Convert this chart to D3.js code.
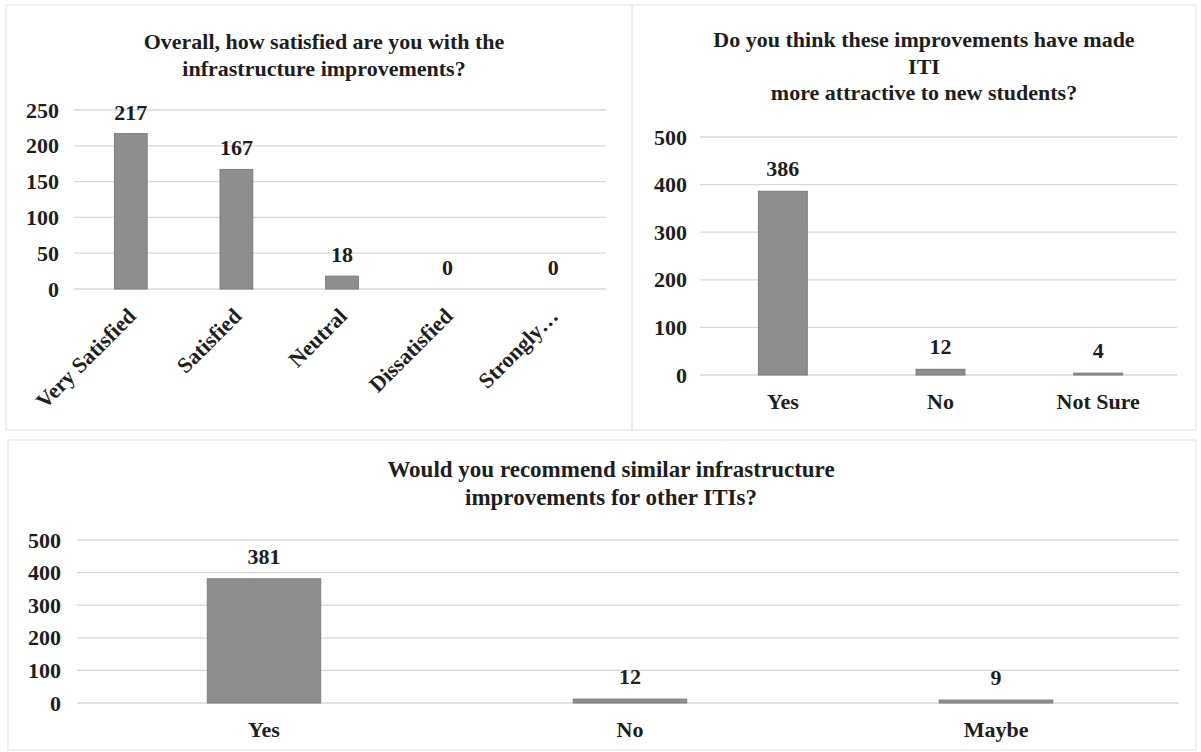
<!DOCTYPE html>
<html>
<head>
<meta charset="utf-8">
<script src="https://cdn.jsdelivr.net/npm/d3@7"></script>
<style>
  html, body { margin: 0; padding: 0; background: #fff; }
  svg { display: block; }
  text { font-family: "Liberation Serif", "Times New Roman", serif; fill: #1e1e1e; }
</style>
</head>
<body>
<svg id="chart" width="1201" height="752"></svg>
<script>
// Survey responses, one small set of arrays per question
const satisfactionCategories = ["Very Satisfied", "Satisfied", "Neutral", "Dissatisfied", "Strongly Dissatisfied"];
const satisfactionLabels = ["Very Satisfied", "Satisfied", "Neutral", "Dissatisfied", "Strongly…"];
const satisfactionValues = [217, 167, 18, 0, 0];
const satisfactionTicks = [0, 50, 100, 150, 200, 250];

const attractiveCategories = ["Yes", "No", "Not Sure"];
const attractiveValues = [386, 12, 4];
const attractiveTicks = [0, 100, 200, 300, 400, 500];

const recommendCategories = ["Yes", "No", "Maybe"];
const recommendValues = [381, 12, 9];
const recommendTicks = [0, 100, 200, 300, 400, 500];

const svg = d3.select("#chart");

// faint panel frames
const frames = [
  {x: 6, y: 5, w: 626, h: 425},
  {x: 632, y: 5, w: 564, h: 425},
  {x: 8, y: 440, w: 1188, h: 310}
];
svg.selectAll("rect.frame").data(frames).join("rect")
  .attr("class", "frame")
  .attr("x", d => d.x).attr("y", d => d.y)
  .attr("width", d => d.w).attr("height", d => d.h)
  .attr("fill", "none").attr("stroke", "#e8e8e8").attr("stroke-width", 1.2);

function drawBarChart(cfg) {
  const g = svg.append("g");
  const x = d3.scaleBand().domain(cfg.categories).range([cfg.x0, cfg.x1]).paddingInner(0.69).paddingOuter(0.345);
  const y = d3.scaleLinear().domain([0, d3.max(cfg.ticks)]).range([cfg.yBase, cfg.yTop]);

  // title
  const title = g.append("text")
    .attr("x", cfg.titleX).attr("y", cfg.titleY)
    .attr("text-anchor", "middle")
    .attr("font-size", cfg.titleSize).attr("font-weight", "bold");
  cfg.title.forEach((line, i) => {
    title.append("tspan").attr("x", cfg.titleX).attr("dy", i === 0 ? 0 : cfg.titleLead).text(line);
  });

  // gridlines
  g.append("g").selectAll("line").data(cfg.ticks).join("line")
    .attr("x1", cfg.x0 - 4).attr("x2", cfg.x1)
    .attr("y1", d => y(d)).attr("y2", d => y(d))
    .attr("stroke", "#d9d9d9").attr("stroke-width", 1.3);

  // value axis
  const yAxis = g.append("g")
    .attr("transform", `translate(${cfg.x0},0)`)
    .call(d3.axisLeft(y).tickValues(cfg.ticks).tickSize(0).tickPadding(cfg.tickPad).tickFormat(d3.format("d")));
  yAxis.select(".domain").remove();
  yAxis.selectAll("text")
    .attr("font-family", "Liberation Serif, serif")
    .attr("font-size", cfg.fontSize).attr("font-weight", "bold").attr("fill", "#1e1e1e");

  // bars
  const data = cfg.categories.map((c, i) => ({c, v: cfg.values[i], label: cfg.labels ? cfg.labels[i] : c}));
  g.append("g").selectAll("rect").data(data).join("rect")
    .attr("x", d => x(d.c)).attr("width", x.bandwidth())
    .attr("y", d => y(d.v)).attr("height", d => y(0) - y(d.v))
    .attr("fill", "#8e8e8e").attr("stroke", "#7d7d7d").attr("stroke-width", 1);

  // value labels
  g.append("g").selectAll("text").data(data).join("text")
    .attr("x", d => x(d.c) + x.bandwidth() / 2)
    .attr("y", d => y(d.v) - cfg.labelGap)
    .attr("text-anchor", "middle")
    .attr("font-size", cfg.fontSize).attr("font-weight", "bold")
    .text(d => d.v);

  // category axis
  const xAxis = g.append("g")
    .attr("transform", `translate(0,${cfg.yBase})`)
    .call(d3.axisBottom(x).tickSize(0).tickPadding(cfg.catPad).tickFormat((c, i) => data[i].label));
  xAxis.select(".domain").remove();
  const catText = xAxis.selectAll("text")
    .attr("font-family", "Liberation Serif, serif")
    .attr("font-size", cfg.fontSize).attr("font-weight", "bold").attr("fill", "#1e1e1e");
  if (cfg.rotate) {
    catText.attr("text-anchor", "end")
      .attr("dy", "0.35em")
      .attr("y", 0)
      .attr("transform", `translate(${cfg.rotDx},${cfg.rotDy}) rotate(-45)`);
  }
}

drawBarChart({
  title: ["Overall, how satisfied are you with the", "infrastructure improvements?"],
  titleX: 324, titleY: 49, titleLead: 27, titleSize: 22,
  categories: satisfactionCategories, labels: satisfactionLabels, values: satisfactionValues, ticks: satisfactionTicks,
  x0: 78, x1: 606, yBase: 289, yTop: 110,
  fontSize: 22, tickPad: 19, labelGap: 14, catPad: 10,
  rotate: true, rotDx: 1, rotDy: 23
});

drawBarChart({
  title: ["Do you think these improvements have made", "ITI", "more attractive to new students?"],
  titleX: 924, titleY: 47, titleLead: 26.5, titleSize: 22,
  categories: attractiveCategories, values: attractiveValues, ticks: attractiveTicks,
  x0: 704, x1: 1177, yBase: 375, yTop: 137,
  fontSize: 22, tickPad: 17, labelGap: 15, catPad: 18
});

drawBarChart({
  title: ["Would you recommend similar infrastructure", "improvements for other ITIs?"],
  titleX: 611, titleY: 477, titleLead: 28, titleSize: 23,
  categories: recommendCategories, values: recommendValues, ticks: recommendTicks,
  x0: 81, x1: 1179, yBase: 703, yTop: 540,
  fontSize: 22, tickPad: 20, labelGap: 15, catPad: 18
});
</script>
</body>
</html>
